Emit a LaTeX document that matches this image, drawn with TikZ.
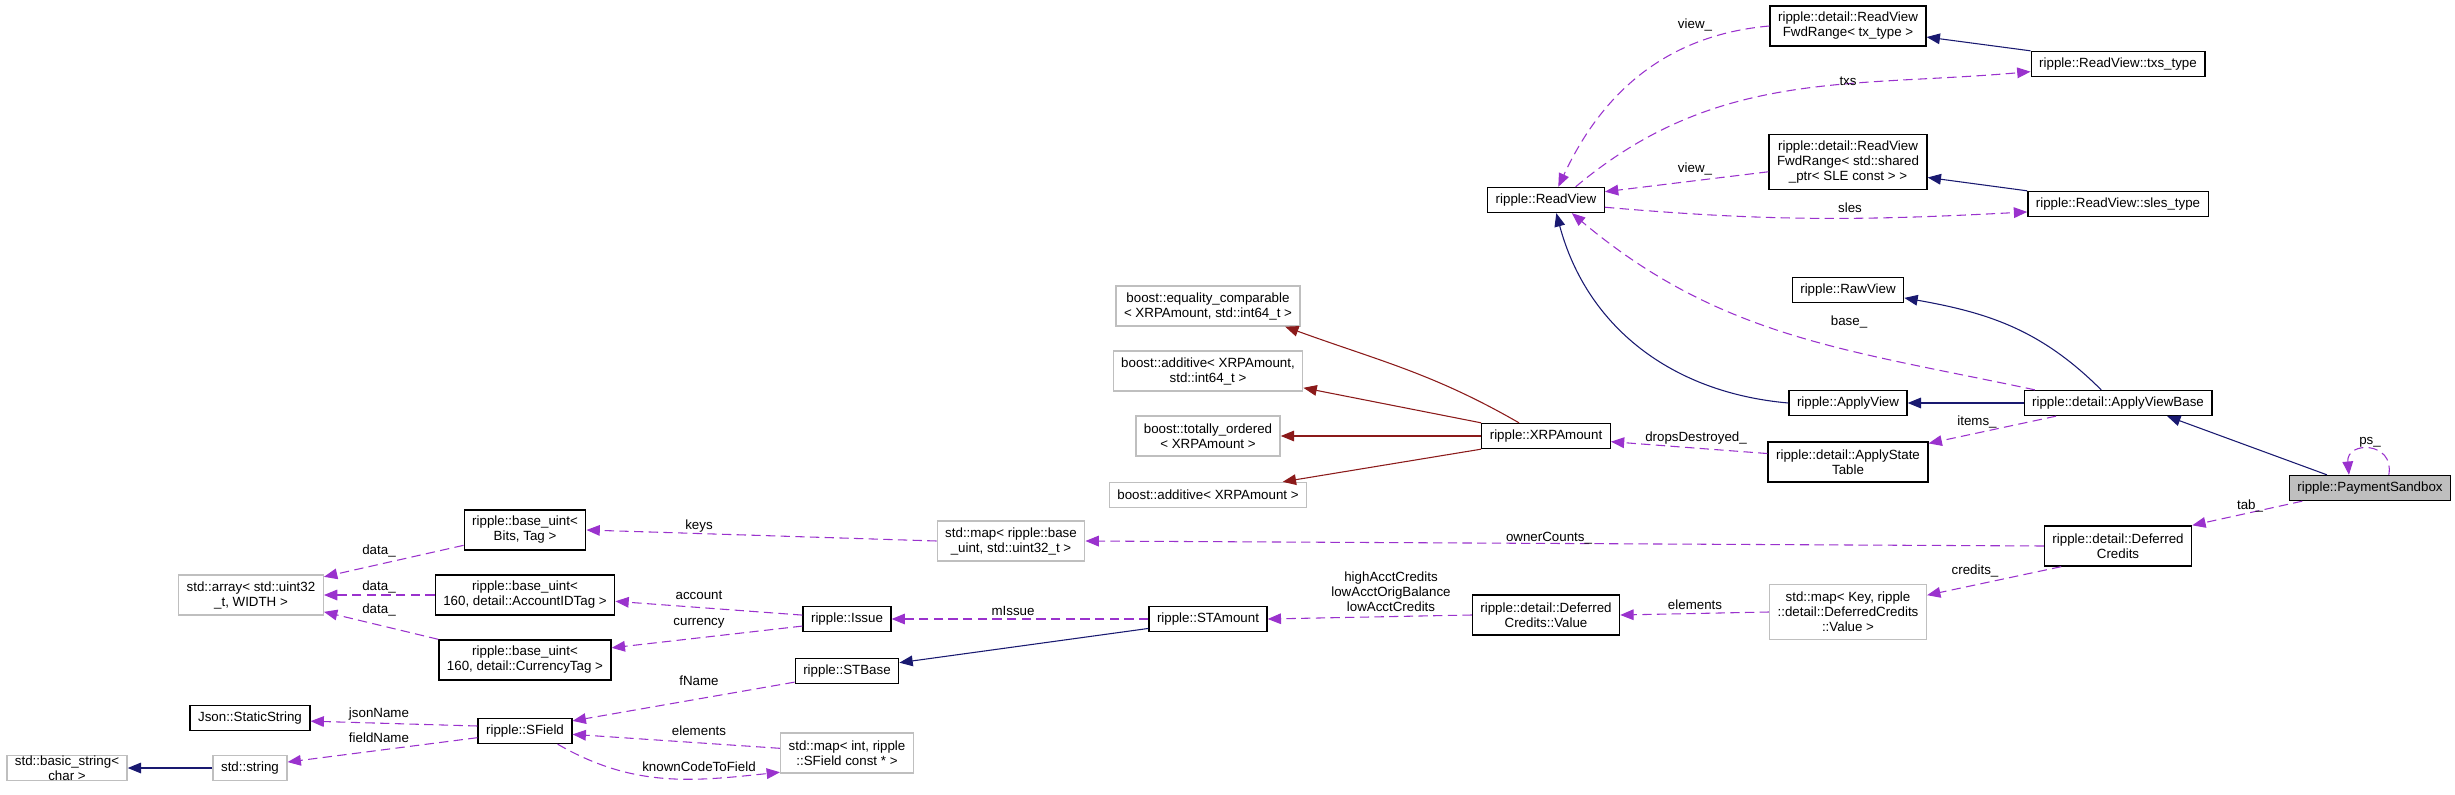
\documentclass[tikz,border=0pt]{standalone}
\usepackage{fontspec}
\setmainfont{Liberation Sans}
\usetikzlibrary{arrows.meta}
\definecolor{orchid}{HTML}{9A32CD}
\definecolor{midnight}{HTML}{191970}
\definecolor{firebrick}{HTML}{8B1A1A}
\definecolor{grey75}{HTML}{BFBFBF}
\tikzset{
    cls/.style={draw=black, line width=1pt, font=\fontsize{10}{11.25}\selectfont, align=center, inner xsep=6pt, inner ysep=0pt, minimum height=18.75pt},
    ext/.style={cls, draw=grey75},
    focus/.style={cls, fill=grey75},
    twoline/.style={minimum height=30pt},
    threeline/.style={minimum height=41.25pt},
    lbl/.style={font=\fontsize{10}{11.25}\selectfont, align=center, inner sep=0pt},
    inherit/.style={draw, color=midnight, line width=0.8pt, -{Triangle[length=10pt, width=8pt]}},
    privinherit/.style={draw, color=firebrick, line width=0.8pt, -{Triangle[length=10pt, width=8pt]}},
    member/.style={draw, color=orchid, line width=0.8pt, dash pattern=on 7pt off 4pt, -{Triangle[length=10pt, width=8pt]}}
}

\begin{document}
\begin{tikzpicture}[x=0.75pt, y=0.75pt]
    \useasboundingbox (0,0) rectangle (2455,-795);

    % Nodes
    \node[ext] (basicString) at (67,-768) {std::basic\_string<\\char >};
    \node[ext] (stdString) at (250,-768) {std::string};
    \node[ext, twoline] (stdArray) at (251,-595) {std::array< std::uint32\\\_t, WIDTH >};
    \node[cls] (jsonStatic) at (250,-718) {Json::StaticString};

    \node[cls, twoline] (baseUintBits) at (525,-530) {ripple::base\_uint<\\Bits, Tag >};
    \node[cls, twoline] (baseUintAcct) at (525,-595) {ripple::base\_uint<\\ 160, detail::AccountIDTag >};
    \node[cls, twoline] (baseUintCur) at (525,-660) {ripple::base\_uint<\\ 160, detail::CurrencyTag >};
    \node[cls] (sField) at (525,-731) {ripple::SField};

    \node[cls] (issue) at (847,-619) {ripple::Issue};
    \node[cls] (stBase) at (847,-671) {ripple::STBase};
    \node[ext, twoline] (mapIntField) at (847,-753) {std::map< int, ripple\\::SField const * >};
    \node[ext, twoline] (mapBaseUint) at (1011,-541) {std::map< ripple::base\\\_uint, std::uint32\_t >};

    \node[ext, twoline] (eqComp) at (1208,-306) {boost::equality\_comparable\\< XRPAmount, std::int64\_t >};
    \node[ext, twoline] (addInt) at (1208,-371) {boost::additive< XRPAmount,\\ std::int64\_t >};
    \node[ext, twoline] (totOrd) at (1208,-436) {boost::totally\_ordered\\< XRPAmount >};
    \node[ext] (addXrp) at (1208,-495) {boost::additive< XRPAmount >};
    \node[cls] (stAmount) at (1208,-619) {ripple::STAmount};

    \node[cls] (readView) at (1546,-200) {ripple::ReadView};
    \node[cls] (xrpAmount) at (1546,-436) {ripple::XRPAmount};
    \node[cls, twoline] (dcValue) at (1546,-615) {ripple::detail::Deferred\\Credits::Value};

    \node[cls, twoline] (fwdTx) at (1848,-26) {ripple::detail::ReadView\\FwdRange< tx\_type >};
    \node[cls, threeline] (fwdSle) at (1848,-162) {ripple::detail::ReadView\\FwdRange< std::shared\\\_ptr< SLE const > >};
    \node[cls] (rawView) at (1848,-290) {ripple::RawView};
    \node[cls] (applyView) at (1848,-403) {ripple::ApplyView};
    \node[cls, twoline] (applyStateTable) at (1848,-462) {ripple::detail::ApplyState\\Table};
    \node[ext, threeline] (mapKey) at (1848,-612) {std::map< Key, ripple\\::detail::DeferredCredits\\::Value >};

    \node[cls] (txsType) at (2118,-64) {ripple::ReadView::txs\_type};
    \node[cls] (slesType) at (2118,-204) {ripple::ReadView::sles\_type};
    \node[cls] (applyViewBase) at (2118,-403) {ripple::detail::ApplyViewBase};
    \node[cls, twoline] (deferredCredits) at (2118,-546) {ripple::detail::Deferred\\Credits};

    \node[focus] (paymentSandbox) at (2370,-488) {ripple::PaymentSandbox};

    % edges
    \draw[member] (fwdTx.west) to[out=185, in=65] (readView.47);
    \draw[inherit] (txsType.north west) -- (fwdTx.-8);
    \draw[member] (readView.24) to[out=40, in=185] (txsType.185);
    \draw[member] (fwdSle.187) -- (readView.8);
    \draw[inherit] (slesType.north west) -- (fwdSle.-11);
    \draw[member] (readView.-7) to[out=-5, in=183] (slesType.185);
    \draw[inherit] (applyView.west) to[out=175, in=-75] (readView.-52);
    \draw[member] (applyViewBase.171) to[out=168, in=-40] (readView.-27);
    \draw[inherit] (applyViewBase.142) to[out=135, in=-10] (rawView.-8);
    \draw[inherit] (applyViewBase.west) -- (applyView.east);
    \draw[member] (applyViewBase.192) -- (applyStateTable.13);
    \draw[inherit] (paymentSandbox.163) -- (applyViewBase.-15);
    \draw[member] (paymentSandbox.35) to[out=80, in=95, looseness=2.2] (paymentSandbox.148);
    \draw[member] (paymentSandbox.191) -- (deferredCredits.north east);

    \draw[privinherit] (xrpAmount.154) to[out=150, in=-20] (eqComp.-15);
    \draw[privinherit] (xrpAmount.north west) -- (addInt.-10);
    \draw[privinherit] (xrpAmount.west) -- (totOrd.east);
    \draw[privinherit] (xrpAmount.south west) -- (addXrp.10);
    \draw[member] (applyStateTable.174) -- (xrpAmount.-5);

    \draw[member] (deferredCredits.west) -- (mapBaseUint.east);
    \draw[member] (deferredCredits.200) -- (mapKey.12);
    \draw[member] (mapKey.west) -- (dcValue.east);
    \draw[member] (dcValue.west) -- (stAmount.east);
    \draw[member] (stAmount.west) -- (issue.east);
    \draw[inherit] (stAmount.189) -- (stBase.9);

    \draw[member] (mapBaseUint.west) -- (baseUintBits.east);
    \draw[member] (issue.175) -- (baseUintAcct.-4);
    \draw[member] (issue.189) -- (baseUintCur.8);
    \draw[member] (baseUintBits.194) -- (stdArray.14);
    \draw[member] (baseUintAcct.west) -- (stdArray.east);
    \draw[member] (baseUintCur.north west) -- (stdArray.-13);
    \draw[member] (stBase.192) -- (sField.12);
    \draw[member] (sField.174) -- (jsonStatic.-3);
    \draw[member] (sField.188) -- (stdString.9);
    \draw[inherit] (stdString.west) -- (basicString.east);
    \draw[member] (mapIntField.176) -- (sField.-4);
    \draw[member] (sField.-22) to[out=-30, in=186] (mapIntField.196);

    % edge labels
    \node[lbl] (lViewTx) at (1695,-25) {view\_};
    \node[lbl] (lTxs) at (1848,-81) {txs};
    \node[lbl] (lViewSle) at (1695,-169) {view\_};
    \node[lbl] (lSles) at (1850,-208) {sles};
    \node[lbl] (lBase) at (1849,-322) {base\_};
    \node[lbl] (lItems) at (1977,-422) {items\_};
    \node[lbl] (lDrops) at (1696,-438) {dropsDestroyed\_};
    \node[lbl] (lPs) at (2370,-442) {ps\_};
    \node[lbl] (lTab) at (2250,-506) {tab\_};
    \node[lbl] (lOwner) at (1549,-538) {ownerCounts\_};
    \node[lbl] (lCredits) at (1975,-571) {credits\_};
    \node[lbl] (lElemDc) at (1695,-605) {elements};
    \node[lbl] (lCreditVals) at (1391,-592) {highAcctCredits\\lowAcctOrigBalance\\lowAcctCredits};
    \node[lbl] (lIssue) at (1013,-611) {mIssue};
    \node[lbl] (lKeys) at (699,-526) {keys};
    \node[lbl] (lAccount) at (699,-595) {account};
    \node[lbl] (lCurrency) at (699,-623) {currency};
    \node[lbl] (lFName) at (699,-681) {fName};
    \node[lbl] (lElemField) at (699,-731) {elements};
    \node[lbl] (lKnown) at (699,-767) {knownCodeToField};
    \node[lbl] (lDataBits) at (379,-551) {data\_};
    \node[lbl] (lDataAcct) at (379,-587) {data\_};
    \node[lbl] (lDataCur) at (379,-610) {data\_};
    \node[lbl] (lJson) at (379,-714) {jsonName};
    \node[lbl] (lField) at (379,-738) {fieldName};
\end{tikzpicture}
\end{document}
